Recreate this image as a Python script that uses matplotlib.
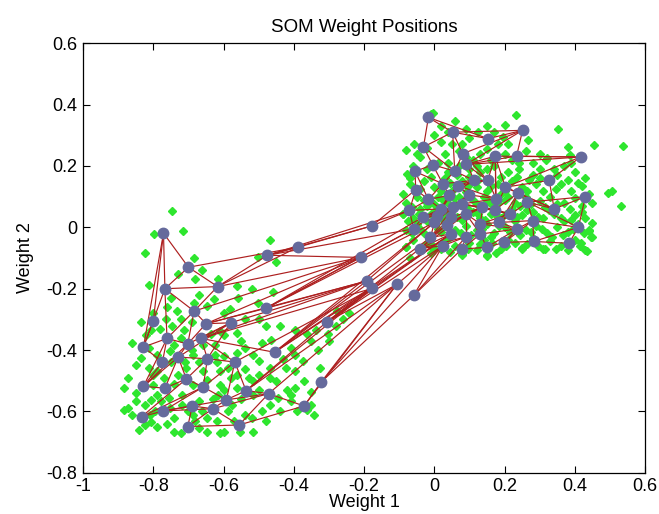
import numpy as np
import matplotlib
matplotlib.use("Agg")
import matplotlib.pyplot as plt

plt.rcParams['font.family'] = ['Liberation Sans', 'DejaVu Sans']

# ---- neuron weight positions, one list per SOM grid column (rows 0..9) ----
col0 = [(-0.800, -0.305), (-0.828, -0.390), (-0.774, -0.439), (-0.828, -0.518), (-0.767, -0.524),
        (-0.706, -0.494), (-0.833, -0.617), (-0.771, -0.598), (-0.689, -0.582), (-0.702, -0.649)]
col1 = [(-0.771, -0.019), (-0.767, -0.200), (-0.761, -0.362), (-0.702, -0.380), (-0.729, -0.423),
        (-0.646, -0.428), (-0.658, -0.520), (-0.592, -0.562), (-0.631, -0.591), (-0.556, -0.644)]
col2 = [(-0.700, -0.130), (-0.617, -0.193), (-0.684, -0.273), (-0.650, -0.314), (-0.580, -0.311),
        (-0.664, -0.362), (-0.568, -0.439), (-0.536, -0.532), (-0.472, -0.542), (-0.371, -0.582)]
col3 = [(-0.389, -0.065), (-0.475, -0.091), (-0.210, -0.098), (-0.480, -0.264), (-0.193, -0.175),
        (-0.455, -0.407), (-0.177, -0.199), (-0.306, -0.308), (-0.107, -0.186), (-0.322, -0.504)]
col4 = [(-0.177, 0.005), (-0.071, 0.055), (-0.059, -0.005), (-0.033, 0.033), (0.000, 0.016),
        (-0.011, -0.033), (0.046, -0.022), (-0.041, -0.069), (0.024, -0.060), (-0.059, -0.222)]
col5 = [(-0.053, 0.123), (-0.017, 0.091), (0.018, 0.060), (0.007, 0.038), (0.054, 0.065),
        (0.048, 0.033), (0.036, 0.009), (0.090, 0.044), (0.090, -0.031), (0.078, -0.071)]
col6 = [(-0.055, 0.182), (0.024, 0.142), (0.042, 0.104), (0.066, 0.136), (0.099, 0.106),
        (0.078, 0.076), (0.137, 0.065), (0.131, 0.011), (0.131, -0.022), (0.149, -0.065)]
col7 = [(-0.005, 0.204), (0.058, 0.183), (0.113, 0.153), (0.152, 0.153), (0.176, 0.093),
        (0.173, 0.058), (0.214, 0.044), (0.185, 0.016), (0.236, -0.005), (0.199, -0.049)]
col8 = [(-0.031, 0.262), (0.052, 0.310), (0.081, 0.240), (0.090, 0.205), (0.173, 0.232),
        (0.202, 0.131), (0.238, 0.111), (0.265, 0.082), (0.280, 0.022), (0.283, -0.046)]
col9 = [(-0.017, 0.358), (0.153, 0.289), (0.251, 0.316), (0.234, 0.232), (0.416, 0.229),
        (0.327, 0.153), (0.341, 0.060), (0.430, 0.100), (0.410, 0.000), (0.383, -0.052)]
som_columns = [col0, col1, col2, col3, col4, col5, col6, col7, col8, col9]

# ---- input data points ----
inputs_left = [
    (-0.747, 0.052), (-0.715, -0.011), (-0.798, -0.022), (-0.824, -0.084), (-0.685, -0.100),
    (-0.811, -0.189), (-0.680, -0.169), (-0.729, -0.153), (-0.468, -0.041), (-0.450, -0.112),
    (-0.501, -0.098), (-0.616, -0.167), (-0.563, -0.191), (-0.460, -0.210), (-0.501, -0.246),
    (-0.628, -0.235), (-0.750, -0.229), (-0.732, -0.273), (-0.684, -0.246), (-0.498, -0.300),
    (-0.439, -0.322), (-0.278, -0.273), (-0.243, -0.278), (-0.800, -0.278), (-0.836, -0.308),
    (-0.806, -0.333), (-0.860, -0.376), (-0.836, -0.426), (-0.747, -0.322), (-0.611, -0.338),
    (-0.563, -0.344), (-0.540, -0.393), (-0.492, -0.376), (-0.466, -0.366), (-0.409, -0.393),
    (-0.421, -0.458), (-0.397, -0.469), (-0.468, -0.458), (-0.498, -0.437), (-0.516, -0.502),
    (-0.563, -0.480), (-0.611, -0.469), (-0.623, -0.415), (-0.688, -0.415), (-0.753, -0.404),
    (-0.789, -0.469), (-0.812, -0.458), (-0.872, -0.491), (-0.884, -0.524), (-0.872, -0.589),
    (-0.884, -0.595), (-0.848, -0.567), (-0.824, -0.644), (-0.841, -0.660), (-0.806, -0.633),
    (-0.741, -0.666), (-0.670, -0.655), (-0.646, -0.666), (-0.611, -0.671), (-0.599, -0.666),
    (-0.552, -0.666), (-0.516, -0.666), (-0.646, -0.622), (-0.688, -0.611), (-0.741, -0.622),
    (-0.795, -0.600), (-0.754, -0.557), (-0.718, -0.546), (-0.670, -0.567), (-0.617, -0.546),
    (-0.575, -0.578), (-0.540, -0.611), (-0.492, -0.600), (-0.468, -0.578), (-0.445, -0.557),
    (-0.409, -0.546), (-0.397, -0.524), (-0.350, -0.535), (-0.344, -0.611), (-0.362, -0.595),
    (-0.409, -0.567), (-0.468, -0.491), (-0.397, -0.415), (-0.374, -0.437), (-0.326, -0.458),
    (-0.516, -0.415), (-0.563, -0.409), (-0.729, -0.480), (-0.706, -0.458), (-0.658, -0.469),
    (-0.646, -0.496), (-0.688, -0.513), (-0.812, -0.393), (-0.789, -0.415), (-0.741, -0.382),
    (-0.800, -0.513), (-0.789, -0.546), (-0.824, -0.578), (-0.806, -0.562), (-0.777, -0.567),
    (-0.753, -0.589), (-0.718, -0.578), (-0.611, -0.513), (-0.563, -0.524), (-0.516, -0.546),
    (-0.587, -0.600), (-0.528, -0.491), (-0.587, -0.458), (-0.658, -0.382), (-0.635, -0.349),
    (-0.712, -0.333), (-0.765, -0.300), (-0.540, -0.300), (-0.581, -0.267), (-0.480, -0.322),
    (-0.397, -0.333), (-0.338, -0.333), (-0.302, -0.349), (-0.362, -0.349), (-0.646, -0.257),
    (-0.623, -0.382), (-0.280, -0.320), (-0.260, -0.300), (-0.070, -0.100),
    (-0.780, -0.330), (-0.720, -0.360), (-0.690, -0.400), (-0.750, -0.440), (-0.710, -0.440),
    (-0.670, -0.440), (-0.600, -0.420), (-0.620, -0.440), (-0.580, -0.490), (-0.540, -0.460),
    (-0.500, -0.480), (-0.450, -0.500), (-0.430, -0.430), (-0.420, -0.530), (-0.500, -0.530),
    (-0.550, -0.560), (-0.600, -0.530), (-0.630, -0.560), (-0.660, -0.600), (-0.700, -0.600),
    (-0.740, -0.510), (-0.770, -0.490), (-0.850, -0.540), (-0.860, -0.610), (-0.810, -0.610),
    (-0.790, -0.650), (-0.760, -0.640), (-0.720, -0.670), (-0.680, -0.630), (-0.620, -0.630),
    (-0.570, -0.630), (-0.520, -0.620), (-0.480, -0.630), (-0.440, -0.600), (-0.390, -0.600),
    (-0.350, -0.580), (-0.370, -0.500), (-0.330, -0.400), (-0.300, -0.370), (-0.350, -0.370),
    (-0.550, -0.370), (-0.600, -0.350), (-0.690, -0.310), (-0.720, -0.300), (-0.600, -0.280),
    (-0.670, -0.220), (-0.760, -0.260), (-0.820, -0.350), (-0.850, -0.450), (-0.800, -0.480),
    (-0.560, -0.230), (-0.520, -0.200), (-0.660, -0.140),
]
inputs_right = [
    (-0.003, 0.374), (0.060, 0.347), (0.232, 0.366), (0.351, 0.319), (0.455, 0.267),
    (0.537, 0.265), (0.505, 0.120), (0.493, 0.111), (0.532, 0.071), (0.380, 0.262),
    (0.386, 0.235), (0.317, 0.220), (0.267, 0.284), (-0.082, 0.251), (-0.059, 0.273),
    (0.018, 0.278), (0.125, 0.311), (0.196, 0.295), (0.149, 0.256), (0.030, 0.240),
    (0.078, 0.273), (0.440, -0.011), (0.446, -0.033), (0.434, -0.076), (0.416, -0.052),
    (0.315, -0.071), (0.250, -0.068), (0.149, -0.093), (0.078, -0.087), (-0.005, -0.060),
    (-0.082, -0.065), (-0.088, 0.044), (-0.088, 0.109), (-0.079, 0.175),
    (-0.010, 0.370), (0.020, 0.330), (0.150, 0.330), (0.000, 0.300), (0.100, 0.290),
    (0.210, 0.270), (-0.040, 0.230), (0.110, 0.220), (0.200, 0.240), (0.260, 0.250),
    (0.320, 0.225), (0.070, 0.250), (0.240, 0.210), (0.300, 0.240),
    (-0.060, 0.200), (-0.020, 0.190), (0.010, 0.210), (0.040, 0.180), (0.070, 0.200),
    (0.100, 0.190), (0.130, 0.180), (0.170, 0.200), (0.210, 0.180), (0.240, 0.190),
    (0.280, 0.170), (0.340, 0.190), (0.400, 0.180), (0.430, 0.160), (0.370, 0.200),
    (0.190, 0.165), (-0.070, 0.140), (-0.030, 0.150), (0.000, 0.130), (0.030, 0.160),
    (0.050, 0.120), (0.080, 0.150), (0.120, 0.130), (0.150, 0.120), (0.180, 0.140),
    (0.220, 0.150), (0.250, 0.130), (0.290, 0.140), (0.310, 0.120), (0.360, 0.140),
    (0.390, 0.120), (0.420, 0.135), (0.440, 0.110), (0.100, 0.165), (0.270, 0.155),
    (-0.080, 0.080), (-0.050, 0.100), (-0.020, 0.070), (0.010, 0.100), (0.040, 0.080),
    (0.070, 0.100), (0.110, 0.090), (0.140, 0.100), (0.160, 0.075), (0.200, 0.090),
    (0.230, 0.080), (0.260, 0.100), (0.300, 0.085), (0.330, 0.100), (0.370, 0.080),
    (0.400, 0.095), (0.450, 0.080), (0.090, 0.115), (0.190, 0.110),
    (-0.090, 0.045), (-0.060, 0.030), (-0.040, 0.060), (-0.010, 0.045), (0.020, 0.030),
    (0.050, 0.055), (0.080, 0.025), (0.110, 0.050), (0.130, 0.030), (0.160, 0.045),
    (0.190, 0.030), (0.220, 0.060), (0.250, 0.040), (0.280, 0.050), (0.310, 0.030),
    (0.340, 0.045), (0.370, 0.020), (0.400, 0.040), (0.430, 0.030), (0.450, 0.015),
    (0.060, 0.075), (0.170, 0.060),
    (-0.080, -0.010), (-0.050, 0.010), (-0.030, -0.020), (0.010, -0.005), (0.030, 0.015),
    (0.060, -0.010), (0.090, 0.005), (0.120, -0.010), (0.150, 0.010), (0.170, -0.020),
    (0.200, 0.000), (0.230, 0.020), (0.260, -0.010), (0.290, 0.005), (0.320, -0.020),
    (0.350, 0.000), (0.380, -0.015), (0.410, 0.010), (0.440, -0.010), (0.450, -0.030),
    (-0.080, -0.065), (-0.060, -0.040), (-0.020, -0.050), (0.000, -0.070), (0.030, -0.045),
    (0.060, -0.060), (0.080, -0.090), (0.100, -0.050), (0.120, -0.075), (0.150, -0.090),
    (0.165, -0.050), (0.190, -0.070), (0.210, -0.040), (0.250, -0.070), (0.280, -0.035),
    (0.310, -0.070), (0.330, -0.045), (0.360, -0.060), (0.400, -0.040), (0.430, -0.075),
    (0.140, -0.040),
    (-0.070, 0.160), (-0.040, 0.125), (-0.010, 0.165), (0.020, 0.120), (0.045, 0.145),
    (0.065, 0.170), (0.095, 0.135), (0.125, 0.155), (0.160, 0.135), (0.200, 0.120),
    (0.235, 0.165), (0.265, 0.120), (0.300, 0.160), (0.345, 0.125), (0.380, 0.155),
    (0.410, 0.145), (-0.065, 0.065), (-0.030, 0.090), (0.000, 0.075), (0.025, 0.090),
    (0.055, 0.095), (0.085, 0.070), (0.120, 0.075), (0.150, 0.090), (0.180, 0.080),
    (0.210, 0.100), (0.245, 0.070), (0.275, 0.075), (0.315, 0.065), (0.350, 0.075),
    (0.385, 0.060), (0.420, 0.070), (-0.075, 0.020), (-0.045, 0.045), (-0.020, 0.020),
    (0.005, 0.055), (0.035, 0.040), (0.065, 0.035), (0.095, 0.060), (0.125, 0.045),
    (0.145, 0.025), (0.175, 0.040), (0.205, 0.045), (0.235, 0.035), (0.265, 0.055),
    (0.295, 0.035), (0.325, 0.055), (0.360, 0.030), (0.390, 0.025), (0.420, 0.050),
    (-0.065, -0.020), (-0.040, -0.005), (-0.010, -0.030), (0.020, -0.015), (0.045, -0.030),
    (0.075, -0.020), (0.105, -0.025), (0.135, -0.005), (0.160, -0.030), (0.185, 0.005),
    (0.215, -0.015), (0.245, -0.025), (0.275, -0.015), (0.305, -0.005), (0.335, -0.030),
    (0.365, -0.025), (0.395, -0.005), (0.425, -0.020), (-0.040, -0.070), (-0.010, -0.085),
    (0.020, -0.070), (0.045, -0.080), (0.095, -0.070), (0.130, -0.055), (0.175, -0.085),
    (0.205, -0.060), (0.230, -0.050), (0.265, -0.055), (0.295, -0.060), (0.345, -0.070),
    (0.380, -0.075), (0.415, -0.060), (-0.050, 0.240), (-0.020, 0.260), (0.040, 0.210),
    (0.050, 0.270), (0.090, 0.230), (0.130, 0.240), (0.160, 0.220), (0.180, 0.270),
    (0.220, 0.220), (0.280, 0.210), (0.040, 0.310), (0.090, 0.320), (0.170, 0.310),
    (0.200, 0.335), (0.120, 0.200), (0.150, 0.190), (0.300, 0.190), (0.350, 0.170),
    (0.390, 0.210),
]

xticks = [-1, -0.8, -0.6, -0.4, -0.2, 0, 0.2, 0.4, 0.6]
xtick_labels = ['-1', '-0.8', '-0.6', '-0.4', '-0.2', '0', '0.2', '0.4', '0.6']
yticks = [-0.8, -0.6, -0.4, -0.2, 0, 0.2, 0.4, 0.6]
ytick_labels = ['-0.8', '-0.6', '-0.4', '-0.2', '0', '0.2', '0.4', '0.6']

# ---- figure ----
fig = plt.figure(figsize=(6.59, 5.14), dpi=100)
ax = fig.add_axes([0.126, 0.080, 0.853, 0.836])

inp = np.array(inputs_left + inputs_right)
ax.plot(inp[:, 0], inp[:, 1], linestyle='none', marker='D', markersize=3.6,
        color='#2ee62e', markeredgecolor='#2ee62e', zorder=1)

# hexagonal grid neighbours
pos = {}
hexpos = {}
for j, col in enumerate(som_columns):
    for i, p in enumerate(col):
        pos[(i, j)] = p
        hexpos[(i, j)] = (j + 0.5 * (i % 2), i * np.sqrt(3) / 2)
keys = list(pos.keys())
for a in range(len(keys)):
    for b in range(a + 1, len(keys)):
        ha, hb = hexpos[keys[a]], hexpos[keys[b]]
        if np.hypot(ha[0] - hb[0], ha[1] - hb[1]) < 1.01:
            pa, pb = pos[keys[a]], pos[keys[b]]
            ax.plot([pa[0], pb[0]], [pa[1], pb[1]], color='#ad1f1f', linewidth=0.85, zorder=2)

neur = np.array([p for col in som_columns for p in col])
ax.plot(neur[:, 0], neur[:, 1], linestyle='none', marker='o', markersize=7.5,
        color='#656a9c', markeredgecolor='#656a9c', zorder=3)

ax.set_xlim(-1, 0.6)
ax.set_ylim(-0.8, 0.6)
ax.set_xticks(xticks)
ax.set_xticklabels(xtick_labels)
ax.set_yticks(yticks)
ax.set_yticklabels(ytick_labels)
ax.tick_params(direction='in', top=True, right=True, length=5, labelsize=13, pad=4)
for s in ax.spines.values():
    s.set_linewidth(0.9)
ax.set_title('SOM Weight Positions', fontsize=13.5, pad=8)
ax.set_xlabel('Weight 1', fontsize=13, labelpad=-1)
ax.set_ylabel('Weight 2', fontsize=13, labelpad=9)

fig.savefig('out.png', dpi=100)
